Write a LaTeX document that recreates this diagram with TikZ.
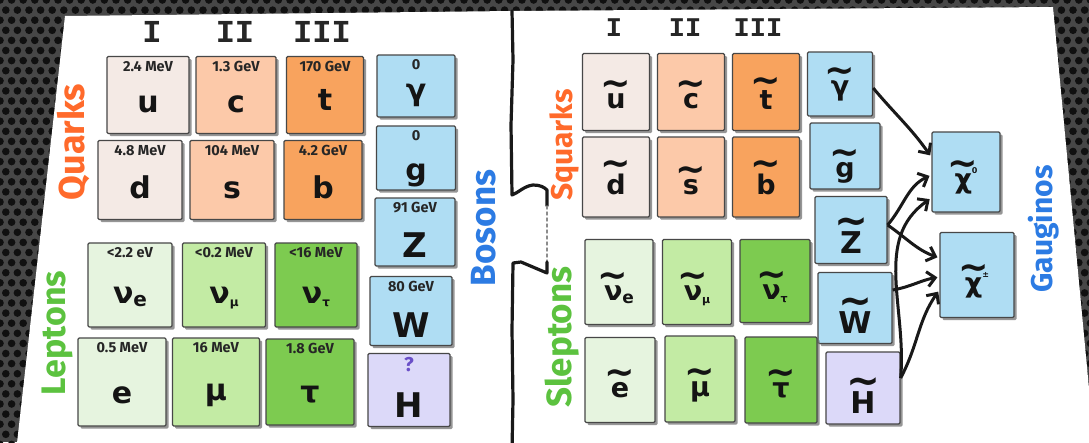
\documentclass[tikz,border=0pt]{standalone}
\usepackage{fontspec}
\usepackage{graphicx}
\setmainfont{Fira Sans}
\newfontfamily\symfont{DejaVu Sans}
\newfontfamily\hdrfont{Liberation Mono}
\usetikzlibrary{shadows,arrows.meta}

\definecolor{upq}{HTML}{F4EAE5}
\definecolor{chq}{HTML}{FCC9A9}
\definecolor{tpq}{HTML}{F8A35E}
\definecolor{bosblue}{HTML}{AFDDF3}
\definecolor{hig}{HTML}{DCD9F9}
\definecolor{lgone}{HTML}{E6F4DF}
\definecolor{lgtwo}{HTML}{C3EBA4}
\definecolor{lgthree}{HTML}{7DCB50}
\definecolor{qorange}{HTML}{FF6A2B}
\definecolor{lgreen}{HTML}{5CC23F}
\definecolor{bblue}{HTML}{2C7BE3}
\definecolor{qpurple}{HTML}{6A4FC8}
\definecolor{metal}{HTML}{474747}
\definecolor{holecol}{HTML}{101010}

% tilde placed over a symbol, keeping the symbol's baseline
\newsavebox\tlboxa
\newsavebox\tlboxb
\newcommand\tl[1]{\sbox\tlboxa{#1}\sbox\tlboxb{\scalebox{1.35}{\textasciitilde}}%
  \makebox[\wd\tlboxa]{\raisebox{\dimexpr\ht\tlboxa-\ht\tlboxb+13pt\relax}{\usebox\tlboxb}}%
  \kern-\wd\tlboxa\usebox\tlboxa}
\newcommand\nusub[2]{ν\raisebox{-3pt}{\fontsize{#2}{#2}\selectfont #1}}

\tikzset{
  card/.style={draw=black!72, line width=1.3pt, rounded corners=1.2pt, inner sep=0pt,
    text=black!92, text depth=0pt,
    drop shadow={shadow xshift=2.5pt, shadow yshift=-2.5pt, fill=black!55, opacity=.75}},
  sz/.style 2 args={minimum width=#1pt, minimum height=#2pt},
  th/.style={text height=#1pt},
  big/.style={font=\symfont\bfseries\fontsize{30}{30}\selectfont},
  huge/.style={font=\symfont\bfseries\fontsize{34}{34}\selectfont},
  sbig/.style={font=\symfont\bfseries\fontsize{27}{27}\selectfont},
  shuge/.style={font=\symfont\bfseries\fontsize{30}{30}\selectfont},
  mass/.style={anchor=north, inner sep=0pt, yshift=-5pt, fill=none, draw=none,
    text=black!85, text height=, text depth=, font=\bfseries\fontsize{14.5}{14.5}\selectfont},
  m/.style={label={[mass]north:#1}},
  grouplab/.style={rotate=90, inner sep=0pt, font=\bfseries\fontsize{#1}{#1}\selectfont},
  hdr/.style={inner sep=0pt, text=black!85, font=\hdrfont\bfseries\fontsize{32}{32}\selectfont},
  shdr/.style={inner sep=0pt, text=black!85, font=\hdrfont\bfseries\fontsize{27}{27}\selectfont},
  divider/.style={line width=3.2pt, black!90, line join=round, line cap=round},
  arr/.style={-{Straight Barb[length=8pt,width=15pt]}, line width=3pt, black!90, shorten >=2pt}
}

\begin{document}
\begin{tikzpicture}[x=1pt,y=-1pt]
\useasboundingbox (0,0) rectangle (1089,442);

% perforated metal backdrop
\fill[metal] (0,0) rectangle (1089,442);
\foreach \j in {0,...,44}{
  \foreach \i in {0,...,6}{
    \fill[holecol] ({\i*11.6+mod(\j,2)*5.8},{\j*10.1}) circle[radius=3.8pt];}
  \foreach \i in {89,...,94}{
    \fill[holecol] ({\i*11.6+mod(\j,2)*5.8},{\j*10.1}) circle[radius=3.8pt];}
}
\foreach \j in {0,1}{
  \foreach \i in {7,...,88}{
    \fill[holecol] ({\i*11.6+mod(\j,2)*5.8},{\j*10.1}) circle[radius=3.8pt];}
}

% paper sheet
\fill[white] (65,16) -- (512,11) -- (1053,7) -- (1095,452) -- (16,452) -- cycle;

% puzzle-shaped divider
\draw[divider] (512,11) -- (513,60) -- (511,125) -- (512,195)
  .. controls (518,193) and (524,186) .. (533,185)
  .. controls (540,185) and (544,187) .. (547,190) -- (547,206);
\draw[divider, line width=1.4pt, black!45, dashed] (547,206) -- (547,262);
\draw[divider] (547,262) -- (547,273) -- (521,262) -- (513,263) -- (512,330) -- (513,400) -- (512,450);

% generation headers
\node[hdr] (h1) at (152,32) {I};
\node[hdr] (h2) at (235,32) {II};
\node[hdr] (h3) at (322,32) {III};
\node[shdr] (sh1) at (614,28) {I};
\node[shdr] (sh2) at (685,28) {II};
\node[shdr] (sh3) at (758,28) {III};

% ---- Standard Model ----
\node[card, big, fill=upq, sz={82}{77}, th=34, m=2.4 MeV] (u) at (148,95) {u};
\node[card, big, fill=chq, sz={80}{77}, th=34, m=1.3 GeV] (c) at (236,95) {c};
\node[card, big, fill=tpq, sz={77}{77}, th=30, m=170 GeV] (t) at (325,95) {t};
\node[card, big, fill=bosblue, sz={78}{62}, th=28, m=0] (ga) at (416,86) {γ};
\node[card, big, fill=upq, sz={84}{79}, th=36, m=4.8 MeV] (d) at (140,180) {d};
\node[card, big, fill=chq, sz={84}{79}, th=36, m=104 MeV] (s) at (232,180) {s};
\node[card, big, fill=tpq, sz={78}{79}, th=36, m=4.2 GeV] (b) at (323,180) {b};
\node[card, big, fill=bosblue, sz={79}{64}, th=44, m=0] (g) at (416,158) {g};
\node[card, huge, fill=bosblue, sz={80}{68}, th=50, m=91 GeV] (Z) at (415,232) {Z};
\node[card, huge, fill=bosblue, sz={82}{69}, th=52, m=80 GeV] (W) at (411,311) {W};
\node[card, huge, fill=hig, sz={82}{73}, th=54,
  label={[mass, text=qpurple, yshift=1pt, font=\bfseries\fontsize{20}{20}\selectfont]north:?}] (H) at (409,390) {H};
\node[card, big, fill=lgone, sz={84}{84}, th=36, m=<2.2 eV] (ne) at (130,285) {\nusub{e}{20}};
\node[card, big, fill=lgtwo, sz={83}{84}, th=36, m=<0.2 MeV] (nm) at (224,285) {\nusub{μ}{12}};
\node[card, big, fill=lgthree, sz={82}{84}, th=36, m=<16 MeV] (nt) at (316,285) {\nusub{τ}{12}};
\node[card, big, fill=lgone, sz={88}{88}, th=42, m=0.5 MeV] (e) at (122,382) {e};
\node[card, big, fill=lgtwo, sz={87}{88}, th=36, m=16 MeV] (mu) at (216,382) {μ};
\node[card, big, fill=lgthree, sz={88}{86}, th=40, m=1.8 GeV] (ta) at (310,382) {τ};

\node[grouplab=36, text=qorange] (quarks) at (73,142) {Quarks};
\node[grouplab=34, text=lgreen] (leptons) at (57,333) {Leptons};
\node[grouplab=35, text=bblue] (bosons) at (484,228) {Bosons};

% ---- superpartners ----
\node[card, sbig, fill=upq, sz={67}{77}, th=32] (su) at (616,92) {\tl{u}};
\node[card, sbig, fill=chq, sz={67}{77}, th=32] (sc) at (691,92) {\tl{c}};
\node[card, sbig, fill=tpq, sz={67}{77}, th=34] (st) at (766,92) {\tl{t}};
\node[card, sbig, fill=bosblue, sz={65}{64}, th=22] (sga) at (840,84) {\tl{γ}};
\node[card, sbig, fill=upq, sz={67}{80}, th=34] (sd) at (616,177) {\tl{d}};
\node[card, sbig, fill=chq, sz={67}{80}, th=34] (ss) at (691,177) {\tl{s}};
\node[card, sbig, fill=tpq, sz={67}{80}, th=34] (sb) at (766,177) {\tl{b}};
\node[card, sbig, fill=bosblue, sz={70}{66}, th=42] (sg) at (845,156) {\tl{g}};
\node[card, shuge, fill=bosblue, sz={72}{67}, th=46] (sZ) at (851,230) {\tl{Z}};
\node[card, shuge, fill=bosblue, sz={74}{71}, th=50] (sW) at (855,308) {\tl{W}};
\node[card, shuge, fill=hig, sz={74}{72}, th=50] (sH) at (863,388) {\tl{H}};
\node[card, sbig, fill=lgone, sz={68}{85}, th=36] (sne) at (619,282) {\tl{ν}\raisebox{-3pt}{\fontsize{17}{17}\selectfont e}};
\node[card, sbig, fill=lgtwo, sz={69}{85}, th=36] (snm) at (697,282) {\tl{ν}\raisebox{-3pt}{\fontsize{11}{11}\selectfont μ}};
\node[card, sbig, fill=lgthree, sz={70}{83}, th=36] (snt) at (775,281) {\tl{ν}\raisebox{-3pt}{\fontsize{11}{11}\selectfont τ}};
\node[card, sbig, fill=lgone, sz={70}{85}, th=34] (se) at (620,380) {\tl{e}};
\node[card, sbig, fill=lgtwo, sz={70}{86}, th=34] (smu) at (700,379) {\tl{μ}};
\node[card, sbig, fill=lgthree, sz={72}{86}, th=34] (sta) at (781,380) {\tl{τ}};
\node[card, sbig, fill=bosblue, sz={68}{80}, th=32] (c0) at (966,172)
  {\tl{χ}\raisebox{15pt}{\fontsize{8}{8}\selectfont 0}};
\node[card, sbig, fill=bosblue, sz={74}{85}, th=34] (cpm) at (977,275)
  {\tl{χ}\raisebox{15pt}{\fontsize{8}{8}\selectfont ±}};

\node[grouplab=30, text=qorange] (squarks) at (564,145) {Squarks};
\node[grouplab=35, text=lgreen] (sleptons) at (562,337) {Sleptons};
\node[grouplab=30, text=bblue] (gauginos) at (1044,229) {Gauginos};

% mixing into neutralinos and charginos
\draw[arr] ([yshift=-4pt]sga.east) to[out=-50,in=125] ([yshift=15pt]c0.west);
\draw[arr] ([yshift=5pt]sZ.east) to[out=50,in=205] ([yshift=-3pt]c0.west);
\draw[arr] ([yshift=10pt]sH.east) to[out=85,in=215] ([yshift=-26pt]c0.west);
\draw[arr] ([yshift=5pt]sZ.east) to[out=-35,in=160] ([yshift=17pt]cpm.west);
\draw[arr] ([yshift=18pt]sW.east) to[out=10,in=190] ([yshift=-2pt]cpm.west);
\draw[arr] ([yshift=10pt]sH.east) to[out=62,in=235] ([yshift=-15pt]cpm.west);
\end{tikzpicture}
\end{document}
